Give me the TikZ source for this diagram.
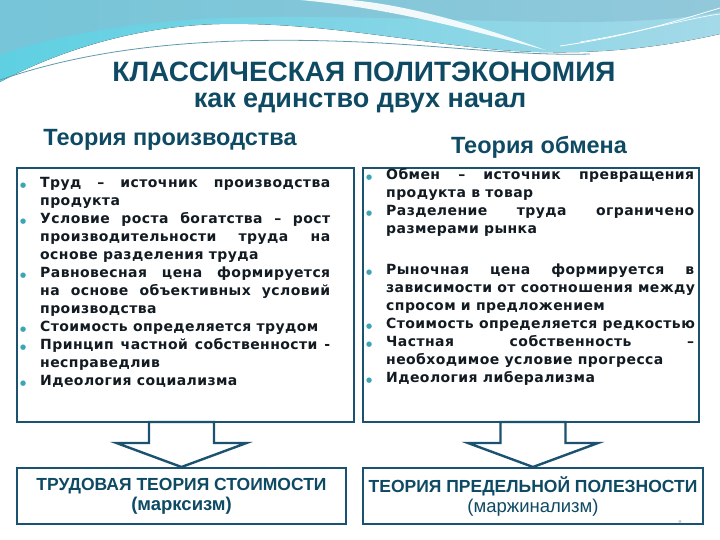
\documentclass[tikz,border=0pt]{standalone}
\usepackage{fontspec}
\setmainfont{Liberation Sans}
\newfontfamily\listfont{DejaVu Sans}[LetterSpace=3]
\newfontfamily\dotfont{DejaVu Sans}
\usetikzlibrary{positioning}
\usetikzlibrary{calc}

\definecolor{titlecol}{HTML}{0E4A64}
\definecolor{boxline}{HTML}{1B5270}
\definecolor{listcol}{HTML}{121A22}
\definecolor{bulcol}{HTML}{3AA5B4}
\definecolor{wavecyan}{HTML}{5ED0E2}
\definecolor{wavelight}{HTML}{A4D9E8}
\definecolor{wavetop}{HTML}{86BED2}
\definecolor{wavethin}{HTML}{5E9AAE}

\newcommand{\bul}{\par\noindent\llap{\makebox[20pt][l]{\textcolor{bulcol}{\dotfont\fontsize{7}{7}\selectfont ●}}}}

\begin{document}
\begin{tikzpicture}[x=1pt, y=-1pt,
  panel/.style={draw=boxline, line width=2pt, fill=white, inner sep=0pt, anchor=north west},
  pts/.style={anchor=north west, inner sep=0pt, text width=#1, align=justify, text=listcol,
    font=\listfont\bfseries\fontsize{14}{18}\selectfont},
  head/.style={text=titlecol, font=\bfseries\fontsize{23.5}{28}\selectfont, inner sep=0pt},
  result/.style={text=titlecol, align=center, inner sep=0pt, font=\fontsize{17.5}{20}\selectfont},
  arr/.style={draw=boxline, line width=2.4pt, fill=white, line join=miter}]
  \useasboundingbox (0,0) rectangle (720,540);

  % wave at the top
  \fill[left color=wavecyan, right color=wavelight] (0,0) -- (720,0) -- (720,34) .. controls (650,50) and (580,56) .. (500,50) .. controls (410,42) and (320,22) .. (220,24) .. controls (130,26) and (50,55) .. (0,82) -- cycle;
  \fill[wavetop, opacity=0.6] (0,0) -- (720,0) -- (720,12) .. controls (600,34) and (420,12) .. (220,18) .. controls (120,22) and (40,40) .. (0,55) -- cycle;
  \fill[white, opacity=0.9] (300,0) .. controls (390,8) and (470,30) .. (545,50) .. controls (470,22) and (400,4) .. (350,0) -- cycle;
  \draw[wavethin, line width=0.8pt] (0,80) .. controls (100,45) and (220,36) .. (360,42) .. controls (450,46) and (520,56) .. (590,54);
  \draw[white, line width=0.8pt] (560,46) .. controls (630,36) and (680,20) .. (720,8);
  \draw[white, line width=0.6pt] (580,42) .. controls (640,32) and (690,18) .. (720,14);

  \node[text=titlecol, font=\bfseries\fontsize{28}{32}\selectfont] (ttl) at (364,72) {КЛАССИЧЕСКАЯ ПОЛИТЭКОНОМИЯ};
  \node[text=titlecol, font=\bfseries\fontsize{27}{30}\selectfont] (sub) at (360,103) {как единство двух начал};

  \node[head] (lhead) at (170,140) {Теория производства};
  \node[head] (rhead) at (539,147) {Теория обмена};

  \node[panel, minimum width=337pt, minimum height=254pt] (ltop) at (16,167) {};
  \node[panel, minimum width=336pt, minimum height=254pt] (rtop) at (362,167) {};

  \node[pts=290pt] (lpts) at (40,169) {%
    \bul Труд – источник производства\linebreak продукта
    \bul Условие роста богатства – рост\linebreak производительности труда на\linebreak основе разделения труда
    \bul Равновесная цена формируется\linebreak на основе объективных условий\linebreak производства
    \bul Стоимость определяется трудом
    \bul Принцип частной собственности -\linebreak несправедлив
    \bul Идеология социализма};

  \node[pts=308pt] (rpts) at (386,161) {%
    \bul Обмен – источник превращения\linebreak продукта в товар
    \bul Разделение труда ограничено\linebreak размерами рынка\par\vspace{23pt}
    \bul Рыночная цена формируется в\linebreak \mbox{зависимости от соотношения между}\linebreak спросом и предложением
    \bul \mbox{Стоимость определяется редкостью}
    \bul Частная собственность –\linebreak необходимое условие прогресса
    \bul Идеология либерализма};

  \node[panel, minimum width=329pt, minimum height=56pt] (lbot) at (16,467) {};
  \node[panel, minimum width=340pt, minimum height=56pt] (rbot) at (362,467) {};

  \draw[arr] (lbot.north) -- ++(-65,-24) -- ++(32.5,0) -- ++(0,-21) -- ++(65,0) -- ++(0,21) -- ++(32.5,0) -- cycle;
  \draw[arr] (rbot.north) -- ++(-65,-24) -- ++(32.5,0) -- ++(0,-21) -- ++(65,0) -- ++(0,21) -- ++(32.5,0) -- cycle;

  \node[result] (lres) at (lbot.center) {\bfseries ТРУДОВАЯ ТЕОРИЯ СТОИМОСТИ\\\bfseries\fontsize{18.5}{20}\selectfont (марксизм)};
  \node[result] (rres) at (rbot.center) {\bfseries ТЕОРИЯ ПРЕДЕЛЬНОЙ ПОЛЕЗНОСТИ\\\fontsize{18.5}{20}\selectfont (маржинализм)};

  \node[text=gray, font=\fontsize{6}{6}\selectfont, inner sep=0pt] (pg) at (680,522) {«};
\end{tikzpicture}
\end{document}
